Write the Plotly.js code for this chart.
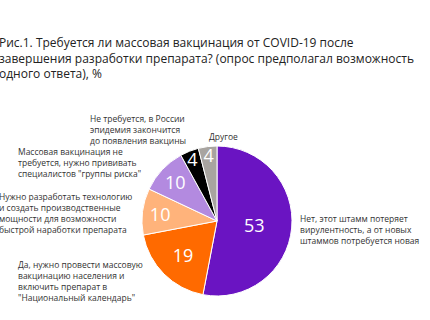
<!DOCTYPE html>
<html>
<head>
<meta charset="utf-8">
<script src="https://cdn.plot.ly/plotly-3.0.1.min.js"></script>
<style>html,body{margin:0;padding:0;background:#fff;}#chart{width:430px;height:320px;}</style>
</head>
<body>
<div id="chart"></div>
<script>
const titleText = "Рис.1. Требуется ли массовая вакцинация от COVID-19 после<br>" +
  "завершения разработки препарата? (опрос предполагал возможность<br>" +
  "одного ответа), %";
const categories = [
  "Нет, этот штамм потеряет<br>вирулентность, а от новых<br>штаммов потребуется новая",
  "Да, нужно провести массовую<br>вакцинацию населения и<br>включить препарат в<br>\"Национальный календарь\"",
  "Нужно разработать технологию<br>и создать производственные<br>мощности для возможности<br>быстрой наработки препарата",
  "Массовая вакцинация не<br>требуется, нужно прививать<br>специалистов \"группы риска\"",
  "Не требуется, в России<br>эпидемия закончится<br>до появления вакцины",
  "Другое"
];
const values = [53, 19, 10, 10, 4, 4];
const colors = ["#6a14c2", "#ff6a00", "#ffb37b", "#b38ae0", "#000000", "#a8a4a0"];

// label placement: left x and vertical centre in pixels (layout only)
const labelPos = [
  {x: 299, y: 229.5},
  {x: 17, y: 281.3},
  {x: -2, y: 213.3},
  {x: 17, y: 162.3},
  {x: 89, y: 129.3},
  {x: 208, y: 136}
];

const W = 430, H = 320;
const annotations = [];
function addText(text, px, py, size, color) {
  annotations.push({
    text: text, xref: "paper", yref: "paper",
    x: px / W, y: 1 - py / H, xanchor: "left", yanchor: "middle",
    showarrow: false, align: "left", borderpad: 0,
    font: {family: "Open Sans, sans-serif", size: size, color: color}
  });
}
addText(titleText, -2, 58, 12, "#222");
categories.forEach((c, i) => addText(c, labelPos[i].x, labelPos[i].y, 8.5, "#333"));

const cx = 217, cy = 221, r = 75;
const trace = {
  type: "pie",
  labels: categories.map(c => c.split("<br>")[0]),
  values: values,
  sort: false,
  direction: "clockwise",
  rotation: 0,
  marker: {colors: colors, line: {color: "#fff", width: 1}},
  textinfo: "value",
  textposition: "inside",
  insidetextorientation: "horizontal",
  textfont: {family: "Open Sans, sans-serif", size: 18, color: "#fff"},
  hoverinfo: "label+value",
  showlegend: false,
  domain: {x: [(cx - r) / W, (cx + r) / W], y: [(H - cy - r) / H, (H - cy + r) / H]}
};

Plotly.newPlot("chart", [trace], {
  width: W, height: H,
  margin: {l: 0, r: 0, t: 0, b: 0},
  paper_bgcolor: "#fff",
  showlegend: false,
  uniformtext: {mode: "show", minsize: 18},
  annotations: annotations
}, {displayModeBar: false, staticPlot: true});
</script>
</body>
</html>
